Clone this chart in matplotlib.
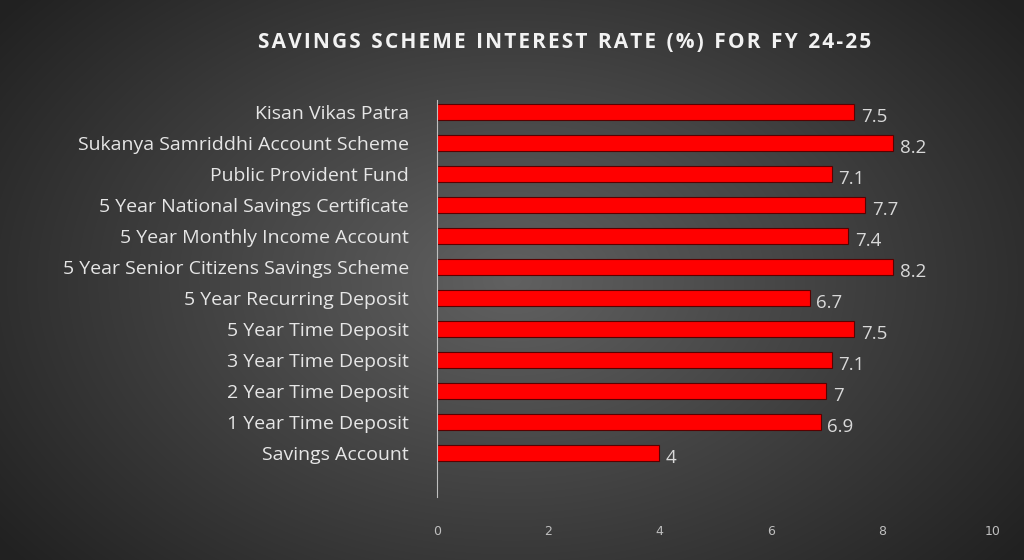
import numpy as np
import matplotlib
matplotlib.use("Agg")
import matplotlib.pyplot as plt

categories = ["Savings Account", "1 Year Time Deposit", "2 Year Time Deposit", "3 Year Time Deposit",
              "5 Year Time Deposit", "5 Year Recurring Deposit", "5 Year Senior Citizens Savings Scheme",
              "5 Year Monthly Income Account", "5 Year National Savings Certificate", "Public Provident Fund",
              "Sukanya Samriddhi Account Scheme", "Kisan Vikas Patra"]
rates = [4, 6.9, 7, 7.1, 7.5, 6.7, 8.2, 7.4, 7.7, 7.1, 8.2, 7.5]
value_labels = ["4", "6.9", "7", "7.1", "7.5", "6.7", "8.2", "7.4", "7.7", "7.1", "8.2", "7.5"]
xticks = [0, 2, 4, 6, 8, 10]

fig = plt.figure(figsize=(10.24, 5.6), dpi=100)
bg = fig.add_axes([0, 0, 1, 1])
yy, xx = np.mgrid[0:560, 0:1024]
r = np.sqrt(((xx - 512) / 620.0) ** 2 + ((yy - 280) / 420.0) ** 2)
v = np.clip(0.38 - 0.24 * r, 0.13, 0.38)
bg.imshow(np.dstack([v, v, v]), aspect="auto", extent=[0, 1, 0, 1])
bg.axis("off")

ax = fig.add_axes([437/1024, 1-497/560, 556/1024, 397/560])
ax.patch.set_alpha(0)
y = np.arange(len(categories))
ax.barh(y, rates, height=0.5, color="#ff0000", edgecolor="#5a0000", linewidth=0.8)
for yi, val, lab in zip(y, rates, value_labels):
    ax.text(val + 0.12, yi - 0.15, lab, color="#d9d9d9", fontsize=13.5, va="center", family="Open Sans")
ax.set_xlim(0, 10)
ax.set_ylim(-1.42, 11.39)
ax.set_yticks(y)
ax.set_yticklabels(categories, color="#e6e6e6", fontsize=14, family="Open Sans")
ax.tick_params(axis="y", length=0, pad=20)
ax.set_xticks(xticks)
ax.set_xticklabels([str(t) for t in xticks], color="#bfbfbf", fontsize=9)
ax.tick_params(axis="x", length=0, pad=20)
for s in ["top", "right", "bottom"]:
    ax.spines[s].set_visible(False)
ax.spines["left"].set_color("#bfbfbf")

title = "SAVINGS SCHEME INTEREST RATE (%) FOR FY 24-25"
spaced = "\u200a".join(list(title)).replace("\u200a \u200a", "\u2002")
fig.text(565/1024, 1-42/560, spaced,
         color="#f2f2f2", fontsize=15, fontweight="bold", ha="center", va="center", family="Open Sans")
fig.savefig("out.png", dpi=100)
